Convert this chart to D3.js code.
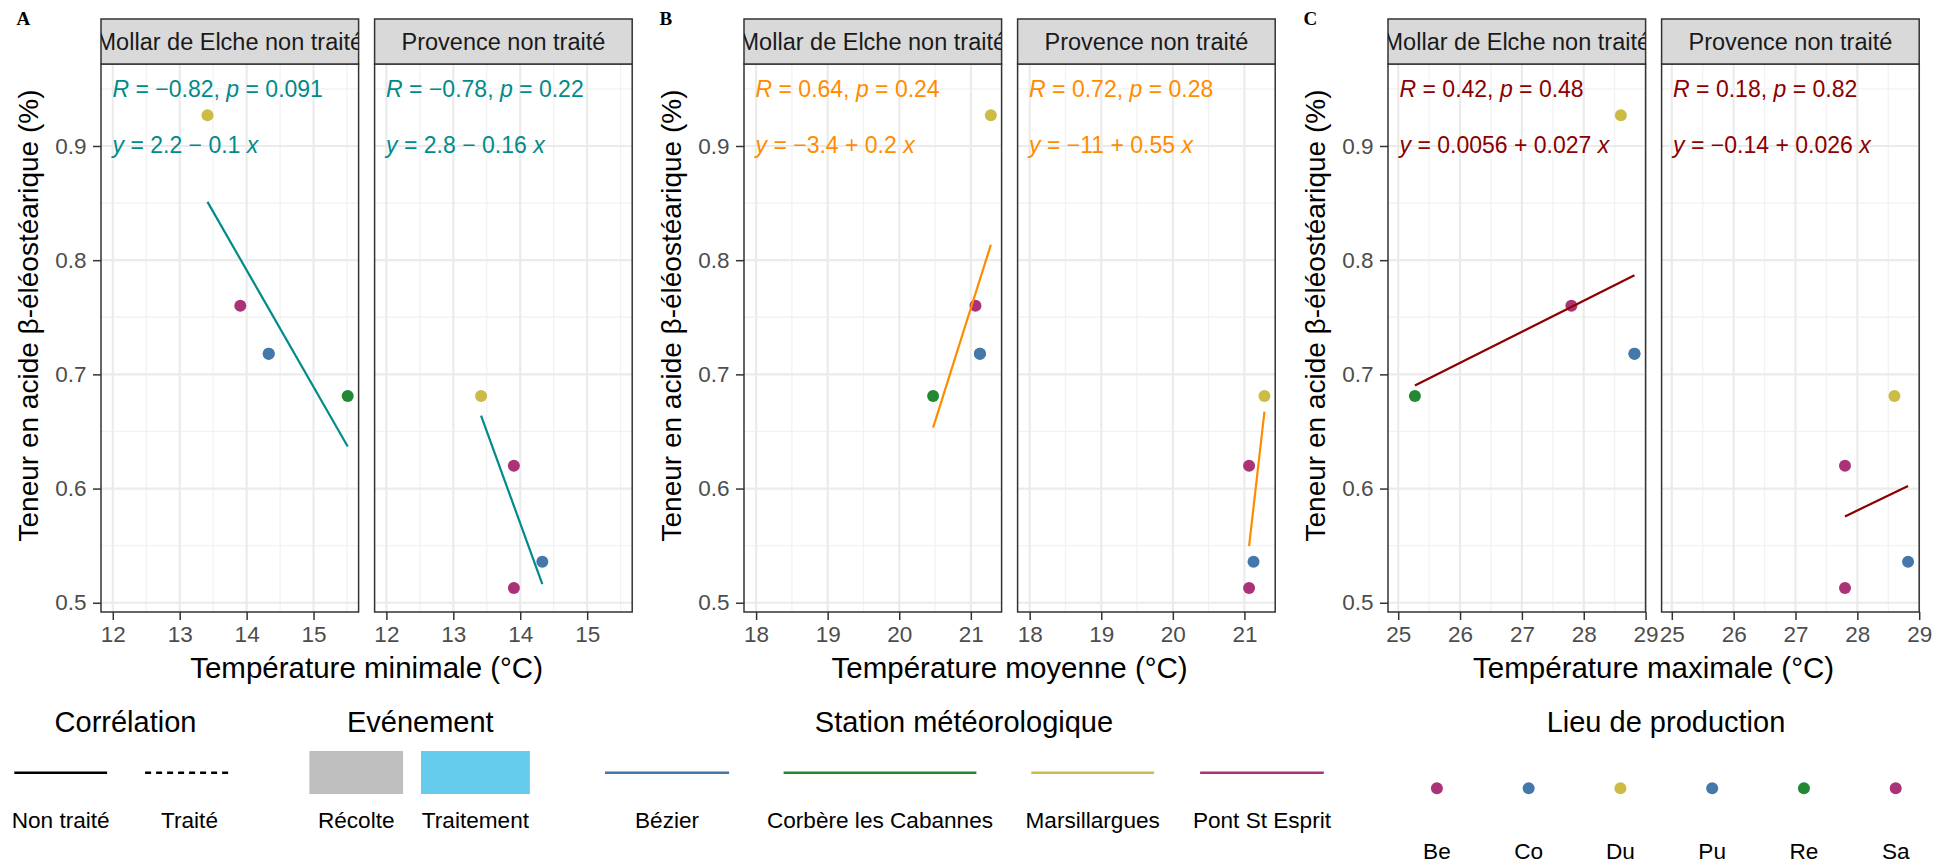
<!DOCTYPE html>
<html><head><meta charset="utf-8">
<script src="https://cdn.jsdelivr.net/npm/d3@7"></script>
<style>
html,body{margin:0;padding:0;background:#fff;}
svg text{font-family:"Liberation Sans",Arial,Helvetica,sans-serif; white-space:pre;}
</style></head><body>
<svg id="chart" width="1936" height="864"></svg>
<script>
// ---------------- data ----------------
const facets = ["Mollar de Elche non traité", "Provence non traité"];
const stations = ["Bézier", "Corbère les Cabannes", "Marsillargues", "Pont St Esprit"];
const stationColors = ["#4477AA", "#228833", "#CCBB44", "#AA3377"];
const stationTmin = [14.33, 15.51, 13.415, 13.905];
const stationTmoy = [21.127, 20.473, 21.28, 21.065];
const stationTmax = [28.82, 25.27, 28.6, 27.8];
const lieux = ["Be", "Co", "Du", "Pu", "Re", "Sa"];
const lieuStation = ["Pont St Esprit", "Bézier", "Marsillargues", "Bézier", "Corbère les Cabannes", "Pont St Esprit"];
const mollarLieux = ["Be", "Co", "Du", "Pu", "Re"];
const mollarTeneur = [0.760, 0.718, 0.927, 0.718, 0.681];
const provenceLieux = ["Be", "Co", "Du", "Sa"];
const provenceTeneur = [0.620, 0.536, 0.681, 0.513];
const panelLetters = ["A", "B", "C"];
const xTitles = ["Température minimale (°C)", "Température moyenne (°C)", "Température maximale (°C)"];
const xDomains = [[11.824, 15.673], [17.831, 21.43], [24.835, 29.0]];
const xTicks = [[12, 13, 14, 15], [18, 19, 20, 21], [25, 26, 27, 28, 29]];
const yTitle = "Teneur en acide β-éléostéarique (%)";
const yDomain = [0.4919, 0.9718];
const yTicks = [0.5, 0.6, 0.7, 0.8, 0.9];
const corLabels = [["R = −0.82, p = 0.091", "R = −0.78, p = 0.22"],
                   ["R = 0.64, p = 0.24", "R = 0.72, p = 0.28"],
                   ["R = 0.42, p = 0.48", "R = 0.18, p = 0.82"]];
const eqLabels = [["y = 2.2 − 0.1 x", "y = 2.8 − 0.16 x"],
                  ["y = −3.4 + 0.2 x", "y = −11 + 0.55 x"],
                  ["y = 0.0056 + 0.027 x", "y = −0.14 + 0.026 x"]];
const fitColors = ["#008B8B", "#FF8C00", "#8B0000"];
const correlationTypes = ["Non traité", "Traité"];
const events = ["Récolte", "Traitement"];
const eventColors = ["#BEBEBE", "#66CCEE"];

// ---------------- layout ----------------
const svg = d3.select("#chart");
const groupX = [0, 643, 1287];
const panelOff = 101, panelW = 257.6, panelGap = 16;
const stripTop = 19, stripBot = 64, panelBot = 612;
const tempArrays = [stationTmin, stationTmoy, stationTmax];
const FONT = '"Liberation Sans",Arial,sans-serif';

function rowsFor(facetIdx, g) {
  const L = facetIdx === 0 ? mollarLieux : provenceLieux;
  const T = facetIdx === 0 ? mollarTeneur : provenceTeneur;
  return L.map((l, i) => {
    const st = lieuStation[lieux.indexOf(l)];
    const si = stations.indexOf(st);
    return { lieu: l, x: tempArrays[g][si], y: T[i], color: stationColors[si] };
  });
}

function richText(sel, str) {
  const parts = str.split(/(\bR\b|\bp\b|\by\b|\bx\b)/);
  parts.forEach(p => {
    if (p === "") return;
    const t = sel.append("tspan").text(p);
    if (/^(R|p|x|y)$/.test(p)) t.attr("font-style", "italic");
  });
}

const yScale = d3.scaleLinear().domain(yDomain).range([panelBot, stripBot]);
const defs = svg.append("defs");

for (let g = 0; g < 3; g++) {
  const gx = groupX[g];
  svg.append("text").attr("x", gx + 16.5).attr("y", 25)
    .style("font-family", '"Liberation Serif","Times New Roman",serif')
    .attr("font-weight", "bold").attr("font-size", 19).text(panelLetters[g]);

  for (let f = 0; f < 2; f++) {
    const x0 = gx + panelOff + f * (panelW + panelGap);
    const x1 = x0 + panelW;
    const xScale = d3.scaleLinear().domain(xDomains[g]).range([x0, x1]);
    const pg = svg.append("g");
    pg.append("rect").attr("x", x0).attr("y", stripBot).attr("width", panelW)
      .attr("height", panelBot - stripBot).attr("fill", "#fff");
    // grid
    const xt = xTicks[g];
    const xMinor = [];
    xt.forEach(t => { [t - 0.5, t + 0.5].forEach(m => { if (m > xDomains[g][0] && m < xDomains[g][1] && !xMinor.includes(m)) xMinor.push(m); }); });
    const yMinor = [];
    yTicks.forEach(t => { [t - 0.05, t + 0.05].forEach(m => { m = +m.toFixed(2); if (m > yDomain[0] && m < yDomain[1] && !yMinor.includes(m)) yMinor.push(m); }); });
    pg.selectAll(".xmin").data(xMinor).enter().append("line")
      .attr("x1", d => xScale(d)).attr("x2", d => xScale(d)).attr("y1", stripBot).attr("y2", panelBot)
      .attr("stroke", "#F2F2F2").attr("stroke-width", 1.3);
    pg.selectAll(".ymin").data(yMinor).enter().append("line")
      .attr("y1", d => yScale(d)).attr("y2", d => yScale(d)).attr("x1", x0).attr("x2", x1)
      .attr("stroke", "#F2F2F2").attr("stroke-width", 1.3);
    pg.selectAll(".xmaj").data(xt).enter().append("line")
      .attr("x1", d => xScale(d)).attr("x2", d => xScale(d)).attr("y1", stripBot).attr("y2", panelBot)
      .attr("stroke", "#EBEBEB").attr("stroke-width", 2.2);
    pg.selectAll(".ymaj").data(yTicks).enter().append("line")
      .attr("y1", d => yScale(d)).attr("y2", d => yScale(d)).attr("x1", x0).attr("x2", x1)
      .attr("stroke", "#EBEBEB").attr("stroke-width", 2.2);

    // points
    const rows = rowsFor(f, g);
    pg.selectAll(".pt").data(rows).enter().append("circle")
      .attr("cx", d => xScale(d.x)).attr("cy", d => yScale(d.y)).attr("r", 6)
      .attr("fill", d => d.color);

    // regression line (least squares over the facet's points)
    const mx = d3.mean(rows, d => d.x), my = d3.mean(rows, d => d.y);
    const sxy = d3.sum(rows, d => (d.x - mx) * (d.y - my));
    const sxx = d3.sum(rows, d => (d.x - mx) * (d.x - mx));
    const b = sxy / sxx, a = my - b * mx;
    const ext = d3.extent(rows, d => d.x);
    pg.append("path").datum(ext.map(xv => [xv, a + b * xv]))
      .attr("d", d3.line().x(d => xScale(d[0])).y(d => yScale(d[1])))
      .attr("stroke", fitColors[g]).attr("stroke-width", 2.2).attr("fill", "none");

    // annotations
    const t1 = pg.append("text").attr("x", x0 + 11.5).attr("y", 96.5).attr("font-size", 23)
      .attr("fill", fitColors[g]);
    richText(t1, corLabels[g][f]);
    const t2 = pg.append("text").attr("x", x0 + 11.5).attr("y", 152.5).attr("font-size", 23)
      .attr("fill", fitColors[g]);
    richText(t2, eqLabels[g][f]);

    // panel border
    pg.append("rect").attr("x", x0).attr("y", stripBot).attr("width", panelW)
      .attr("height", panelBot - stripBot).attr("fill", "none").attr("stroke", "#333333").attr("stroke-width", 1.5);

    // strip
    const cid = `clip${g}${f}`;
    defs.append("clipPath").attr("id", cid).append("rect")
      .attr("x", x0).attr("y", stripTop).attr("width", panelW).attr("height", stripBot - stripTop);
    pg.append("rect").attr("x", x0).attr("y", stripTop).attr("width", panelW).attr("height", stripBot - stripTop)
      .attr("fill", "#D9D9D9").attr("stroke", "#333333").attr("stroke-width", 1.5);
    pg.append("text").attr("clip-path", `url(#${cid})`)
      .attr("x", (x0 + x1) / 2).attr("y", 50.3).attr("text-anchor", "middle")
      .attr("font-size", 23.5).attr("fill", "#1A1A1A").text(facets[f]);

    // x axis
    const xa = svg.append("g").attr("transform", `translate(0,${panelBot})`)
      .call(d3.axisBottom(xScale).tickValues(xt).tickFormat(d3.format("d")).tickSize(8).tickPadding(6.5));
    xa.select(".domain").remove();
    xa.selectAll("line").attr("stroke", "#333333").attr("stroke-width", 1.5);
    xa.selectAll("text").attr("font-size", 22.5).attr("fill", "#4D4D4D").style("font-family", FONT);

    if (f === 0) {
      const ya = svg.append("g").attr("transform", `translate(${x0},0)`)
        .call(d3.axisLeft(yScale).tickValues(yTicks).tickFormat(d3.format(".1f")).tickSize(8).tickPadding(6.5));
      ya.select(".domain").remove();
      ya.selectAll("line").attr("stroke", "#333333").attr("stroke-width", 1.5);
      ya.selectAll("text").attr("font-size", 22.5).attr("fill", "#4D4D4D").style("font-family", FONT);
    }
  }
  // axis titles
  const pL = gx + panelOff, pR = gx + panelOff + 2 * panelW + panelGap;
  svg.append("text").attr("x", (pL + pR) / 2).attr("y", 678).attr("text-anchor", "middle")
    .attr("font-size", 29.5).attr("fill", "#000").text(xTitles[g]);
  svg.append("text").attr("transform", `translate(${gx + 28},${(stripTop + panelBot) / 2}) rotate(-90)`)
    .attr("text-anchor", "middle").attr("dominant-baseline", "central")
    .attr("font-size", 28).attr("fill", "#000").text(yTitle);
}

// ---------------- legends ----------------
const LT = 732, LKEY = 772.7, LLAB = 828;
const leg = svg.append("g");
function legTitle(cx, txt) {
  leg.append("text").attr("x", cx).attr("y", LT).attr("text-anchor", "middle").attr("font-size", 29).text(txt);
}
function legLabel(cx, y, txt) {
  leg.append("text").attr("x", cx).attr("y", y).attr("text-anchor", "middle").attr("font-size", 22.6).attr("fill", "#000").text(txt);
}
// Corrélation
legTitle(125.5, "Corrélation");
const corKeys = [[14.3, 107.1, null, 60.7], [145.1, 233.0, "6,5", 189.5]];
correlationTypes.forEach((c, i) => {
  const k = corKeys[i];
  leg.append("line").attr("x1", k[0]).attr("x2", k[1]).attr("y1", LKEY).attr("y2", LKEY)
    .attr("stroke", "#000").attr("stroke-width", 2.6).attr("stroke-dasharray", k[2]);
  legLabel(k[3], LLAB, c);
});
// Evénement
legTitle(420.3, "Evénement");
const evKeys = [[309.4, 403.1], [421, 529.9]];
events.forEach((e, i) => {
  const k = evKeys[i];
  leg.append("rect").attr("x", k[0]).attr("y", 751).attr("width", k[1] - k[0]).attr("height", 43).attr("fill", eventColors[i]);
  legLabel((k[0] + k[1]) / 2, LLAB, e);
});
// Station météorologique
legTitle(964, "Station météorologique");
const stKeys = [[605, 729.1], [783.6, 976.4], [1031.3, 1154.1], [1200.1, 1323.8]];
stations.forEach((s, i) => {
  const k = stKeys[i];
  leg.append("line").attr("x1", k[0]).attr("x2", k[1]).attr("y1", LKEY).attr("y2", LKEY)
    .attr("stroke", stationColors[i]).attr("stroke-width", 2.6);
  legLabel((k[0] + k[1]) / 2, LLAB, s);
});
// Lieu de production
legTitle(1666, "Lieu de production");
const lieuX = d3.scalePoint().domain(lieux).range([1436.9, 1895.7]);
lieux.forEach((l, i) => {
  const si = stations.indexOf(lieuStation[i]);
  leg.append("circle").attr("cx", lieuX(l)).attr("cy", 788.3).attr("r", 6).attr("fill", stationColors[si]);
  legLabel(lieuX(l), 859, l);
});
</script>
</body></html>
